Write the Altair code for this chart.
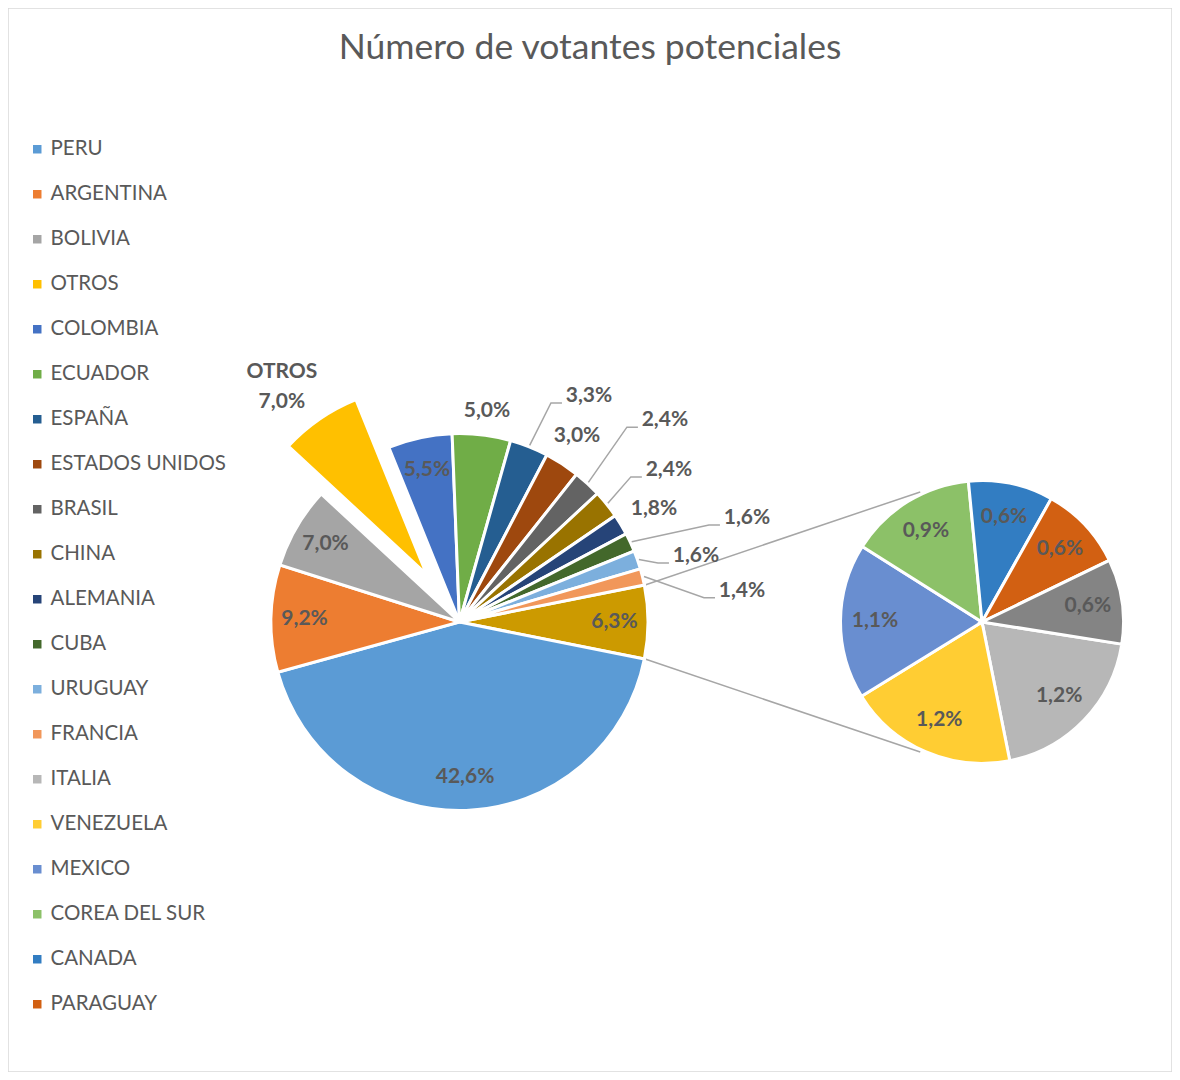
import math
import altair as alt
import pandas as pd

# ---------------- data ----------------
TITLE = "Número de votantes potenciales"

main_names = ["PERU", "ARGENTINA", "BOLIVIA", "OTROS", "COLOMBIA", "ECUADOR",
              "ESPAÑA", "ESTADOS UNIDOS", "BRASIL", "CHINA", "ALEMANIA", "CUBA",
              "URUGUAY", "FRANCIA"]
main_values = [42.6, 9.2, 7.0, 7.0, 5.5, 5.0, 3.3, 3.0, 2.4, 2.4, 1.8, 1.6, 1.6, 1.4]

sec_names = ["ITALIA", "VENEZUELA", "MEXICO", "COREA DEL SUR", "CANADA", "PARAGUAY", "RESTO"]
sec_values = [1.2, 1.2, 1.1, 0.9, 0.6, 0.6, 0.6]

agg_name = "SECUNDARIO"
agg_value = 6.3

legend_names = main_names + sec_names[:6]

color_names = main_names + sec_names + [agg_name]
color_values = ["#5B9BD5", "#ED7D31", "#A5A5A5", "#FFC000", "#4472C4", "#70AD47",
                "#255E91", "#9E480E", "#636363", "#997300", "#264478", "#43682B",
                "#7CAFDD", "#F1975A",
                "#B7B7B7", "#FFCD33", "#698ED0", "#8CC168", "#327DC2", "#D26012", "#848484",
                "#CC9A00"]

# ---------------- layout (frame pixels) ----------------
W, H = 1164, 1064
MAIN_C = (459.5, 622.0)
MAIN_R = 187.0
SEC_C = (982.0, 622.0)
SEC_R = 140.0
EXPLODE = {"OTROS": 58.0}
SEC_START = 99.0
STROKE = 3.0
INSIDE_MAIN = 155.0
INSIDE_SEC = 107.0
CONNECT_ANG = 25.4
# outside labels: (angle deg, distance) from main centre
OUTSIDE = {
    "ECUADOR": (7.4, 213), "ESPAÑA": (29.8, 260.5), "ESTADOS UNIDOS": (32.3, 220),
    "BRASIL": (45.5, 288), "CHINA": (54.0, 258.8), "ALEMANIA": (59.8, 225),
    "CUBA": (70.1, 305.7), "URUGUAY": (74.4, 245.5), "FRANCIA": (83.7, 284.2),
    "OTROS": (322.9, 294.5),
}
LEADERS = ["ESPAÑA", "BRASIL", "CHINA", "CUBA", "URUGUAY", "FRANCIA"]
GREY_TEXT = "#595959"
LINE_GREY = "#A6A6A6"


def pol(c, ang, d):
    a = math.radians(ang)
    return c[0] + d * math.sin(a), c[1] - d * math.cos(a)


def fmt(v):
    return f"{v:.1f}%".replace(".", ",")


slices, labels, leaders = [], [], []

# main pie: aggregated slice centred on 3 o'clock
total = agg_value + sum(main_values)
order = [(agg_name, agg_value)] + list(zip(main_names, main_values))
agg_span = agg_value / total * 360
a = 90 - agg_span / 2
agg_a0, agg_a1 = a, a + agg_span
for n, v in order:
    span = v / total * 360
    mid = a + span / 2
    c = MAIN_C
    if n in EXPLODE:
        c = pol(MAIN_C, mid, EXPLODE[n])
    slices.append(dict(name=n, cx=c[0], cy=c[1], t0=math.radians(a),
                       t1=math.radians(a + span), r=MAIN_R + STROKE / 2))
    if n in OUTSIDE:
        ang, d = OUTSIDE[n]
        lx, ly = pol(MAIN_C, ang, d)
        if n == "OTROS":
            labels.append(dict(text=n, x=lx, y=ly - 15))
            labels.append(dict(text=fmt(v), x=lx, y=ly + 15))
        else:
            labels.append(dict(text=fmt(v), x=lx, y=ly))
        if n in LEADERS:
            sx, sy = pol(MAIN_C, mid, MAIN_R + 3)
            pts = [(sx, sy), (lx - 38, ly + 7), (lx - 27, ly + 7)]
            for i, (px, py) in enumerate(pts):
                leaders.append(dict(name=n, i=i, x=px, y=py))
    else:
        lx, ly = pol(MAIN_C, mid, INSIDE_MAIN)
        labels.append(dict(text=fmt(v), x=lx, y=ly))
    a += span

# secondary pie
stot = sum(sec_values)
a = SEC_START
for n, v in zip(sec_names, sec_values):
    span = v / stot * 360
    mid = a + span / 2
    slices.append(dict(name=n, cx=SEC_C[0], cy=SEC_C[1], t0=math.radians(a),
                       t1=math.radians(a + span), r=SEC_R + STROKE / 2))
    lx, ly = pol(SEC_C, mid, INSIDE_SEC)
    labels.append(dict(text=fmt(v), x=lx, y=ly))
    a += span

# connector lines
p1 = pol(MAIN_C, agg_a0, MAIN_R + 3)
q1 = pol(SEC_C, 360 - CONNECT_ANG, SEC_R + 4)
p2 = pol(MAIN_C, agg_a1, MAIN_R + 3)
q2 = pol(SEC_C, 180 + CONNECT_ANG, SEC_R + 4)
connectors = pd.DataFrame([
    dict(x=p1[0], y=p1[1], x2=q1[0], y2=q1[1]),
    dict(x=p2[0], y=p2[1], x2=q2[0], y2=q2[1]),
])

slices_df = pd.DataFrame(slices)
labels_df = pd.DataFrame(labels)
leaders_df = pd.DataFrame(leaders)
title_df = pd.DataFrame([dict(text=TITLE, x=590, y=59)])

xs = alt.Scale(domain=[8, 8 + W], zero=False, nice=False)
ys = alt.Scale(domain=[8 + H, 8], zero=False, nice=False)

X = lambda f="x": alt.X(f"{f}:Q", scale=xs, axis=None)
Y = lambda f="y": alt.Y(f"{f}:Q", scale=ys, axis=None)

arcs = alt.Chart(slices_df).mark_arc(stroke="white", strokeWidth=STROKE).encode(
    x=X("cx"), y=Y("cy"),
    theta=alt.Theta("t0:Q", scale=None, stack=None),
    theta2=alt.Theta2("t1:Q"),
    radius=alt.Radius("r:Q", scale=None),
    color=alt.Color("name:N",
                    scale=alt.Scale(domain=color_names, range=color_values),
                    legend=alt.Legend(values=legend_names, orient="none",
                                      legendX=19, legendY=131, title=None,
                                      direction="vertical", columns=1,
                                      symbolType="square", symbolSize=72,
                                      symbolStrokeWidth=0, labelFont="Lato",
                                      labelFontSize=20.5, labelColor=GREY_TEXT,
                                      labelOffset=3, rowPadding=24, padding=0,
                                      labelLimit=400)),
)

lead = alt.Chart(leaders_df).mark_line(color=LINE_GREY, strokeWidth=1.5).encode(
    x=X(), y=Y(), detail="name:N", order="i:Q")

conn = alt.Chart(connectors).mark_rule(color=LINE_GREY, strokeWidth=1.5).encode(
    x=X(), y=Y(), x2="x2:Q", y2="y2:Q")

text = alt.Chart(labels_df).mark_text(font="Lato", fontSize=21, fontWeight="bold",
                                      color=GREY_TEXT, baseline="middle",
                                      align="center").encode(
    x=X(), y=Y(), text="text:N")

title = alt.Chart(title_df).mark_text(font="Lato", fontSize=35.5, color=GREY_TEXT,
                                      baseline="alphabetic", align="center").encode(
    x=X(), y=Y(), text="text:N")

chart = alt.layer(conn, arcs, lead, text, title).properties(
    width=W, height=H, padding=0,
    autosize=alt.AutoSizeParams(type="none"),
).configure_view(stroke="#D9D9D9", strokeWidth=1.5)

chart.save("out.html", embed_options={"renderer": "svg", "actions": False})
